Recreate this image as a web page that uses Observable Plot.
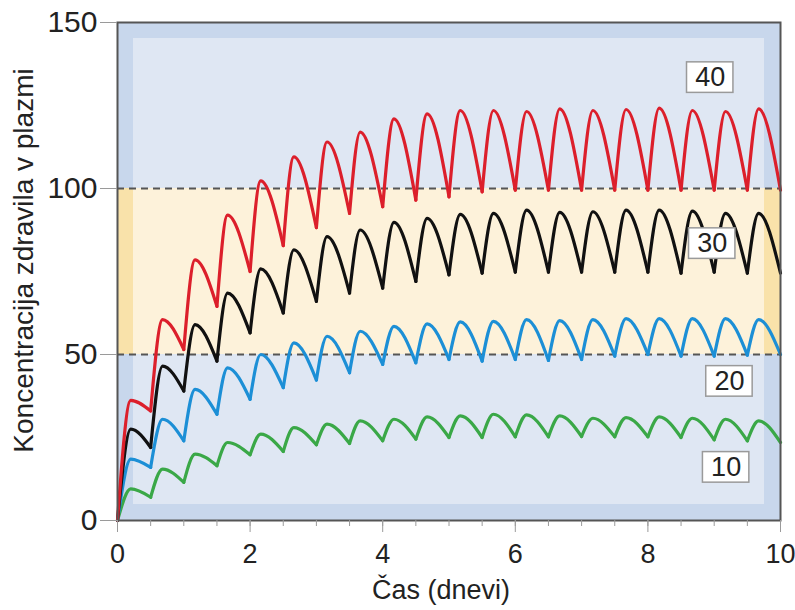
<!DOCTYPE html>
<html>
<head>
<meta charset="utf-8">
<script src="https://cdn.jsdelivr.net/npm/d3@7"></script>
<script src="https://cdn.jsdelivr.net/npm/@observablehq/plot@0.6"></script>
<style>
  html, body { margin: 0; padding: 0; background: #ffffff; }
  svg text { font-family: "Liberation Sans", Arial, sans-serif; }
</style>
</head>
<body>
<div id="chart"></div>
<script>
// ---- data ----
const xTitle = "Čas (dnevi)";
const yTitle = "Koncentracija zdravila v plazmi";
const xTicks = [0, 2, 4, 6, 8, 10];
const xMinorTicks = [0, 0.5, 1, 1.5, 2, 2.5, 3, 3.5, 4, 4.5, 5, 5.5, 6, 6.5, 7, 7.5, 8, 8.5, 9, 9.5, 10];
const yTicks = [0, 50, 100, 150];
const therapeuticBand = [50, 100];

// dose times (start of each cycle), peak times and trough times (end of each cycle), days
const doseTimes   = [0, 0.5, 1, 1.5, 2, 2.5, 3, 3.5, 4, 4.5, 5, 5.5, 6, 6.5, 7, 7.5, 8, 8.5, 9, 9.5];
const peakTimes   = [0.2, 0.68, 1.17, 1.66, 2.16, 2.66, 3.16, 3.66, 4.17, 4.67, 5.17, 5.67, 6.17, 6.67, 7.17, 7.67, 8.17, 8.67, 9.17, 9.67];
const troughTimes = [0.5, 1, 1.5, 2, 2.5, 3, 3.5, 4, 4.5, 5, 5.5, 6, 6.5, 7, 7.5, 8, 8.5, 9, 9.5, 10];

// series "10" (green)
const peaks10   = [9.5, 15.5, 20, 23.5, 26, 28, 29, 30, 30.5, 31.2, 31.5, 32, 31.8, 31.5, 30.8, 31, 31.2, 30.8, 30.5, 30];
const troughs10 = [7, 11.5, 16.5, 19.8, 20.8, 22.8, 23.2, 24, 24.5, 25, 25, 25.2, 25.2, 25.3, 25.2, 25.2, 25, 24.3, 24, 23.5];
// series "20" (blue)
const peaks20   = [18.5, 30.5, 39.5, 46, 50, 53.5, 55.5, 57, 58.5, 59.2, 59.8, 60, 60.5, 60.2, 60.5, 60.8, 60.8, 60.8, 60.8, 60.5];
const troughs20 = [16, 24, 32, 36.5, 40, 42.3, 44.5, 47, 47.5, 48.5, 48, 48.5, 48.2, 48.5, 49.5, 50, 49.5, 49.5, 49.8, 50];
// series "30" (black)
const peaks30   = [27.5, 46.5, 59, 68.5, 75.8, 81.5, 85.5, 87.5, 89.8, 91, 92.2, 92.5, 93.5, 92.8, 93, 93.5, 93.5, 93.2, 92.5, 92.5];
const troughs30 = [22, 39, 48, 56.5, 62.5, 66, 68.5, 70, 72, 74, 74.5, 74.8, 74.8, 74.8, 74.8, 74.8, 74.5, 74.8, 74.5, 74.5];
// series "40" (red)
const peaks40   = [36.2, 60.5, 78.5, 92, 102.3, 109.5, 114, 117, 121, 122.5, 123.5, 123.5, 123.2, 124, 123.5, 123.8, 124.2, 123.5, 123.2, 124];
const troughs40 = [33, 51.5, 64.5, 75, 82.8, 88.2, 92.5, 94.5, 96.5, 97.5, 99, 99.5, 99.5, 99.5, 99.5, 99.5, 99.5, 99.5, 99.5, 99.5];

const seriesNames = ["10", "20", "30", "40"];
const labelX = [9.18, 9.23, 8.97, 8.94];
const labelY = [16, 41.9, 83.4, 133.4];

// ---- build tables ----
function cycles(name, peaks, troughs) {
  const rows = [];
  doseTimes.forEach((t0, k) => {
    const seg = name + "-" + k;
    rows.push({seg, t: t0, v: k === 0 ? 0 : troughs[k - 1]});
    rows.push({seg, t: peakTimes[k], v: peaks[k]});
    rows.push({seg, t: troughTimes[k], v: troughs[k]});
  });
  return rows;
}
const rows10 = cycles("10", peaks10, troughs10);
const rows20 = cycles("20", peaks20, troughs20);
const rows30 = cycles("30", peaks30, troughs30);
const rows40 = cycles("40", peaks40, troughs40);
const labels = seriesNames.map((s, i) => ({text: s, x: labelX[i], y: labelY[i]}));
const fullArea = [{x1: xTicks[0], x2: xTicks[xTicks.length - 1], y1: yTicks[0], y2: yTicks[yTicks.length - 1]}];
const band = [{x1: xTicks[0], x2: xTicks[xTicks.length - 1], y1: therapeuticBand[0], y2: therapeuticBand[1]}];

const lineOpts = {x: "t", y: "v", z: "seg", strokeWidth: 3.2, curve: "monotone-x", strokeLinecap: "round", strokeLinejoin: "round"};

const chart = Plot.plot({
  width: 795,
  height: 610,
  marginLeft: 117,
  marginRight: 15,
  marginTop: 22,
  marginBottom: 90,
  x: {domain: [0, 10], label: null},
  y: {domain: [0, 150], label: null},
  style: {background: "#ffffff", fontFamily: "Liberation Sans, Arial, sans-serif", color: "#222"},
  marks: [
    Plot.rect(fullArea, {x1: "x1", x2: "x2", y1: "y1", y2: "y2", fill: "#c8d7ec"}),
    Plot.rect(fullArea, {x1: "x1", x2: "x2", y1: "y1", y2: "y2", fill: "#dfe7f3", insetLeft: 16, insetRight: 16, insetTop: 16, insetBottom: 16}),
    Plot.rect(band, {x1: "x1", x2: "x2", y1: "y1", y2: "y2", fill: "#f9e2aa"}),
    Plot.rect(band, {x1: "x1", x2: "x2", y1: "y1", y2: "y2", fill: "#fdf2da", insetLeft: 16, insetRight: 16}),
    Plot.ruleY(therapeuticBand, {stroke: "#555", strokeWidth: 2, strokeDasharray: "7,5"}),
    Plot.line(rows10, {...lineOpts, stroke: "#3aa847"}),
    Plot.line(rows20, {...lineOpts, stroke: "#1c8fd6"}),
    Plot.line(rows30, {...lineOpts, stroke: "#111111"}),
    Plot.line(rows40, {...lineOpts, stroke: "#dc1f2b"}),
    Plot.rect(labels, {x1: d => d.x - 0.35, x2: d => d.x + 0.35, y1: d => d.y - 4.6, y2: d => d.y + 4.6, fill: "#ffffff", stroke: "#9a9a9a", strokeWidth: 1.5}),
    Plot.text(labels, {x: "x", y: "y", text: "text", fontSize: 27, fill: "#222"}),
    Plot.frame({stroke: "#555", strokeWidth: 2}),
    Plot.axisY({ticks: yTicks, tickSize: 17, tickPadding: 3, fontSize: 30, tickFormat: d => String(d), stroke: "#9a9a9a", fill: "#222"}),
    Plot.axisX({ticks: xMinorTicks, tickSize: 6, tickFormat: () => "", stroke: "#9a9a9a"}),
    Plot.axisX({ticks: xTicks, tickSize: 12, tickPadding: 11, fontSize: 27, tickFormat: d => String(d), stroke: "#9a9a9a", fill: "#222"}),
    Plot.text([xTitle], {frameAnchor: "bottom", dx: -8, dy: 59, fontSize: 27, fill: "#222", lineAnchor: "top", textAnchor: "middle"}),
    Plot.text([yTitle], {frameAnchor: "left", dx: -93, dy: -11, rotate: -90, fontSize: 28, fill: "#222", textAnchor: "middle"})
  ]
});
document.getElementById("chart").appendChild(chart);
</script>
</body>
</html>
